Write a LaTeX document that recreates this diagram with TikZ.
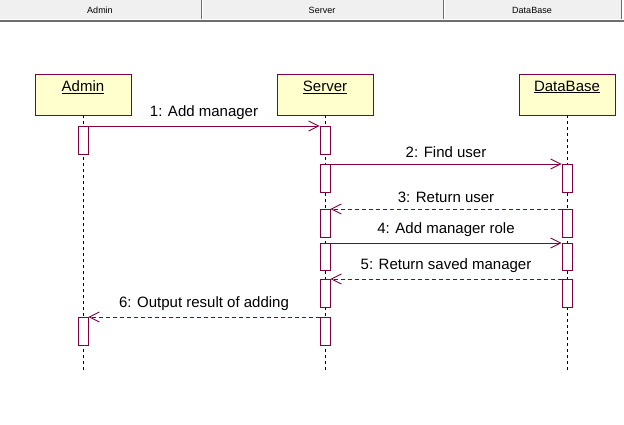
\documentclass[tikz,border=0pt]{standalone}
\usepackage{fontspec}
\setmainfont{Liberation Sans}
\usetikzlibrary{arrows.meta}

\definecolor{umlline}{RGB}{128,0,64}
\definecolor{umlfill}{RGB}{255,255,206}
\definecolor{hdrgray}{RGB}{240,240,240}
\definecolor{hdredge}{RGB}{110,110,110}

\tikzset{
  objbox/.style={draw=umlline, fill=umlfill, line width=0.9pt, minimum width=96pt, minimum height=41pt, inner sep=0pt},
  objlabel/.style={inner sep=0pt, font=\fontsize{15}{18}\selectfont},
  actbox/.style={draw=umlline, fill=white, line width=0.9pt, minimum width=10pt, minimum height=28pt, inner sep=0pt, anchor=north},
  lifeline/.style={black, line width=0.8pt, dash pattern={on 3pt off 3pt}},
  callmsg/.style={draw=umlline, line width=0.9pt, -{Straight Barb[length=10pt,width=10pt]}},
  retmsg/.style={callmsg, dash pattern={on 4pt off 3pt}},
  msglabel/.style={above=6pt, inner sep=0pt, text=black, font=\fontsize{15}{18}\selectfont},
  hdrlabel/.style={inner sep=0pt, font=\fontsize{9}{11}\selectfont}
}

\begin{document}
\begin{tikzpicture}[x=1pt,y=1pt,yscale=-1,xscale=1]
\useasboundingbox (0,0) rectangle (624,424);

% header bar
\fill[hdrgray] (0,0) rectangle (621,19);
\draw[hdredge, line width=2pt] (0,21) -- (624,21);
\draw[hdredge, line width=1pt] (201,0) -- (201,19);
\draw[white, line width=1pt] (202,0) -- (202,19);
\draw[hdredge, line width=1pt] (443,0) -- (443,19);
\draw[white, line width=1pt] (444,0) -- (444,19);
\draw[hdredge, line width=1pt] (621,0) -- (621,19);
\node[hdrlabel] (hdrAdmin) at (100,10) {Admin};
\node[hdrlabel] (hdrServer) at (322,10) {Server};
\node[hdrlabel] (hdrDataBase) at (532,10) {DataBase};

% objects
\node[objbox] (admin) at (83,94.5) {};
\node[objbox] (server) at (325,94.5) {};
\node[objbox] (database) at (567,94.5) {};
\node[objlabel] (adminLbl) at (83,87) {\underline{Admin}};
\node[objlabel] (serverLbl) at (325,87) {\underline{Server}};
\node[objlabel] (databaseLbl) at (567,87) {\underline{DataBase}};

% lifelines
\coordinate (adminEnd) at (83,372);
\coordinate (serverEnd) at (325,372);
\coordinate (databaseEnd) at (567,372);
\draw[lifeline] (admin.south) -- (adminEnd);
\draw[lifeline] (server.south) -- (serverEnd);
\draw[lifeline] (database.south) -- (databaseEnd);

% activations
\node[actbox] (a1) at (83,126) {};
\node[actbox] (a2) at (83,317) {};
\node[actbox] (s1) at (325,126) {};
\node[actbox] (s2) at (325,164) {};
\node[actbox] (s3) at (325,209) {};
\node[actbox, minimum height=27pt] (s4) at (325,243) {};
\node[actbox] (s5) at (325,279) {};
\node[actbox] (s6) at (325,317) {};
\node[actbox] (d1) at (567,164) {};
\node[actbox] (d2) at (567,209) {};
\node[actbox, minimum height=27pt] (d3) at (567,243) {};
\node[actbox] (d4) at (567,279) {};

% messages
\draw[callmsg] (a1.north east) -- node[msglabel] (m1) {1: Add manager} (s1.north west);
\draw[callmsg] (s2.north east) -- node[msglabel] (m2) {2: Find user} (d1.north west);
\draw[retmsg] (d2.north west) -- node[msglabel] (m3) {3: Return user} (s3.north east);
\draw[callmsg] (s4.north east) -- node[msglabel] (m4) {4: Add manager role} (d3.north west);
\draw[retmsg] (d4.north west) -- node[msglabel] (m5) {5: Return saved manager} (s5.north east);
\draw[retmsg] (s6.north west) -- node[msglabel] (m6) {6: Output result of adding} (a2.north east);

\end{tikzpicture}
\end{document}
